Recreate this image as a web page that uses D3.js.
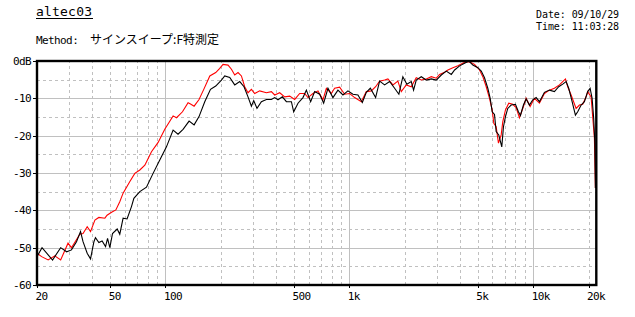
<!DOCTYPE html>
<html>
<head>
<meta charset="utf-8">
<script src="https://cdn.jsdelivr.net/npm/d3@7"></script>
<style>
  body { margin: 0; background: #fff; }
  .grid line { stroke: #c0c0c0; stroke-width: 1; shape-rendering: crispEdges; }
  .grid.minor line { stroke-dasharray: 3,3; }
  .grid path { display: none; }
  .axis path { display: none; }
  .axis line { stroke: #000; stroke-width: 1; shape-rendering: crispEdges; }
  .axis text, .info { font-family: "DejaVu Sans Mono", "Liberation Mono", monospace; font-size: 11px; letter-spacing: -0.6px; fill: #000; }
  .line { fill: none; stroke-width: 1.1; stroke-linejoin: miter; }
</style>
</head>
<body>
<div id="chart"></div>
<script>
// measurement curves (Hz / dB)
const redFreq = [20, 21.2, 23.0, 25.0, 26.9, 29.5, 30.8, 34.2, 35.6, 37.5, 39.1, 41.3, 43.4, 46.8, 48.1, 50.9, 53.7, 56.4, 58.8, 64.0, 68.1, 72.5, 77.2, 83.9, 91.2, 99.1, 110, 114.8, 123.7, 132.7, 136.8, 143.1, 152.2, 161.5, 174.2, 187.6, 197.3, 205.6, 218.9, 228.4, 238, 248.1, 258.8, 269.7, 281.1, 293.3, 305.7, 325.4, 353.9, 376.7, 392.6, 418, 445, 473.8, 504.4, 537, 571.5, 595.6, 634.1, 675.1, 718.6, 749.9, 798.3, 831.9, 885.6, 943, 1004, 1069, 1162, 1237, 1317, 1390, 1461, 1556, 1621, 1726, 1837, 1917, 2040, 2172, 2312, 2462, 2622, 2791, 2972, 3097, 3297, 3437, 3659, 3896, 4235, 4508, 4799, 5110, 5322, 5554, 5787, 5986, 6107, 6290, 6474, 6698, 6833, 7068, 7365, 7743, 8079, 8421, 8853, 9158, 9628, 10161, 10818, 11515, 12261, 13050, 13894, 14481, 14979, 15416, 16084, 17125, 17846, 18600, 19410, 19803, 20659, 21077, 21534, 21800];
const redDb = [-51.5, -52.4, -53.3, -52.2, -53.3, -48.8, -50.0, -46.4, -46.2, -44.4, -45.7, -42.6, -41.9, -42.1, -41.3, -40.5, -39.9, -37.7, -35.4, -32.3, -30.1, -29.2, -27.9, -24.3, -21.8, -18.3, -14.7, -15.2, -13.6, -11.2, -11.5, -12.1, -10.3, -7.6, -4.0, -3.1, -2.0, -0.9, -1.1, -2.2, -3.75, -3.1, -4.0, -6.9, -8.5, -7.6, -8.7, -8.0, -8.5, -8.2, -9.1, -8.5, -9.6, -9.4, -10.3, -8.7, -8.7, -9.8, -8.7, -8.0, -10.4, -7.3, -8.7, -7.3, -7.0, -8.9, -8.7, -9.8, -10.9, -8.2, -8.0, -6.9, -5.4, -5.1, -4.8, -6.4, -5.4, -8.2, -6.4, -6.9, -4.5, -5.1, -4.8, -4.2, -4.6, -3.6, -3.0, -2.4, -1.8, -1.3, -0.35, -0.2, -0.9, -2.4, -4.2, -6.9, -10.0, -13.1, -16.7, -17.6, -22.0, -19.8, -16.3, -13.1, -11.3, -11.6, -12.5, -15.2, -12.2, -10.0, -12.2, -10.0, -11.3, -8.7, -7.8, -7.3, -6.4, -5.5, -4.8, -6.9, -9.1, -12.7, -11.8, -11.6, -9.6, -8.2, -9.6, -14.9, -20.7, -34];

const blackFreq = [20, 21.3, 24.3, 26.9, 29.0, 30.8, 32.8, 34.5, 35.6, 37.5, 39.1, 40.8, 41.6, 43.4, 45.2, 47.2, 48.4, 49.8, 51.5, 54.6, 56.4, 58.8, 61.8, 65.3, 67.3, 72.5, 78.8, 85.6, 93.1, 101.2, 110, 117, 124.6, 134.4, 143.1, 152.2, 163.5, 175.7, 187.6, 201.5, 210, 223.6, 238, 253.4, 267.4, 281.1, 293.3, 301.9, 314.6, 332.4, 353.9, 376.7, 392.6, 409.2, 432.4, 454.6, 484, 498.2, 525.7, 559.6, 583.8, 616.1, 647.7, 689.6, 725, 765.1, 814.5, 867, 923, 982.7, 1046, 1114, 1177, 1237, 1301, 1390, 1461, 1556, 1656, 1763, 1860, 1955, 2056, 2172, 2236, 2312, 2462, 2622, 2791, 2972, 3164, 3368, 3587, 3738, 3980, 4235, 4469, 4699, 5001, 5219, 5436, 5666, 5838, 5986, 6161, 6290, 6499, 6749, 6893, 7068, 7274, 7589, 8009, 8315, 8527, 8853, 9158, 9544, 9946, 10379, 10818, 11515, 12261, 13050, 13772, 14481, 15110, 15609, 16289, 16975, 17471, 18231, 18999, 19803, 20406, 20922, 21346, 21640, 21800];
const blackDb = [-52.4, -50.0, -53.3, -50.0, -51.1, -50.6, -48.4, -45.7, -48.4, -51.5, -53.0, -48.4, -47.3, -48.6, -48.2, -49.7, -47.5, -50.0, -46.2, -45.0, -46.4, -42.1, -42.3, -39.0, -36.8, -35.0, -33.8, -30.1, -26.5, -23.0, -18.5, -19.6, -18.3, -16.1, -17.1, -14.9, -10.9, -7.6, -6.7, -5.1, -4.0, -4.4, -6.4, -5.5, -6.9, -9.6, -12.1, -10.6, -12.7, -10.9, -10.3, -10.3, -9.8, -10.4, -9.6, -10.9, -10.9, -13.6, -11.3, -9.8, -7.8, -10.9, -8.2, -8.9, -11.3, -7.3, -9.8, -7.8, -9.1, -8.0, -8.9, -9.1, -11.1, -8.4, -7.3, -9.8, -5.4, -6.4, -5.5, -7.3, -8.9, -4.2, -6.2, -5.5, -7.8, -5.1, -4.2, -5.1, -4.8, -5.1, -3.75, -2.7, -3.6, -2.4, -1.3, -0.6, 0, -1.1, -1.8, -2.7, -4.5, -7.3, -10.0, -13.6, -14.3, -18.9, -19.8, -23.0, -17.6, -14.9, -12.7, -11.8, -11.6, -13.6, -14.6, -11.8, -10.2, -11.8, -10.4, -9.8, -10.9, -8.4, -7.8, -8.2, -6.9, -6.2, -5.5, -7.3, -10.9, -14.5, -13.6, -11.8, -10.9, -8.2, -7.3, -10.0, -15.4, -21.6, -34];

const xLabelValues = [20, 50, 100, 500, 1000, 5000, 10000, 20000];
const xLabelTexts = ['20', '50', '100', '500', '1k', '5k', '10k', '20k'];
const xMajor = [100, 1000, 10000];
const xMinor = [30, 40, 50, 60, 70, 80, 90, 200, 300, 400, 500, 600, 700, 800, 900,
  2000, 3000, 4000, 5000, 6000, 7000, 8000, 9000, 20000];
const yLabelValues = [0, -10, -20, -30, -40, -50, -60];
const yMajor = [-10, -20, -30, -40, -50];
const yMinor = [-5, -15, -25, -35, -45, -55];

const titleText = 'altec03';
const methodLabel = 'Method:';
const methodText = 'サインスイープ:F特測定';
const dateText = 'Date: 09/10/29';
const timeText = 'Time: 11:03:28';

var margin = {top: 61, right: 38.7, bottom: 32, left: 37};
var fullWidth = 635, fullHeight = 317;
var width = fullWidth - margin.left - margin.right;
var height = fullHeight - margin.top - margin.bottom;

var xScale = d3.scaleLog().domain([20, 22050]).range([0, width]);
var yScale = d3.scaleLinear().domain([0, -60]).range([0, height]);

var root = d3.select('#chart').append('svg')
  .attr('width', fullWidth)
  .attr('height', fullHeight);

root.append('rect').attr('width', fullWidth).attr('height', fullHeight).attr('fill', '#fff');

// header texts
root.append('text').attr('class', 'info')
  .attr('x', 36).attr('y', 16)
  .style('font-size', '13px').style('letter-spacing', '0.2px')
  .text(titleText);
root.append('line')
  .attr('x1', 36).attr('x2', 93).attr('y1', 18.5).attr('y2', 18.5)
  .attr('stroke', '#000').attr('stroke-width', 1);

root.append('text').attr('class', 'info')
  .attr('x', 36).attr('y', 44)
  .text(methodLabel);
root.append('text')
  .attr('x', 90).attr('y', 44)
  .style('font-family', '"Noto Sans CJK JP", sans-serif')
  .style('font-size', '12px')
  .text(methodText);

root.append('text').attr('class', 'info')
  .attr('x', 619).attr('y', 18).attr('text-anchor', 'end')
  .style('font-size', '10px').style('letter-spacing', '-0.1px')
  .text(dateText);
root.append('text').attr('class', 'info')
  .attr('x', 619).attr('y', 29.5).attr('text-anchor', 'end')
  .style('font-size', '10px').style('letter-spacing', '-0.1px')
  .text(timeText);

var svg = root.append('g')
  .attr('transform', `translate(${margin.left},${margin.top})`);

// grid
svg.append('g').attr('class', 'grid minor')
  .attr('transform', `translate(0,${height})`)
  .call(d3.axisBottom(xScale).tickValues(xMinor).tickSize(-height).tickFormat(''));
svg.append('g').attr('class', 'grid major')
  .attr('transform', `translate(0,${height})`)
  .call(d3.axisBottom(xScale).tickValues(xMajor).tickSize(-height).tickFormat(''));
svg.append('g').attr('class', 'grid minor')
  .call(d3.axisLeft(yScale).tickValues(yMinor).tickSize(-width).tickFormat(''));
svg.append('g').attr('class', 'grid major')
  .call(d3.axisLeft(yScale).tickValues(yMajor).tickSize(-width).tickFormat(''));

svg.append('defs').append('clipPath')
  .attr('id', 'clip')
  .append('rect')
  .attr('width', width).attr('height', height);

var line = d3.line()
  .x(d => xScale(d[0]))
  .y(d => yScale(d[1]));

var dataArea = svg.append('g').attr('clip-path', 'url(#clip)');
dataArea.append('path')
  .datum(redFreq.map((f, i) => [f, redDb[i]]))
  .attr('class', 'line')
  .attr('stroke', '#ff0000')
  .attr('d', line);
dataArea.append('path')
  .datum(blackFreq.map((f, i) => [f, blackDb[i]]))
  .attr('class', 'line')
  .attr('stroke', '#000')
  .attr('d', line);

// axes
var xAxis = svg.append('g').attr('class', 'axis x')
  .attr('transform', `translate(0,${height})`)
  .call(d3.axisBottom(xScale).tickValues(xLabelValues).tickSize(3).tickPadding(3)
    .tickFormat((d, i) => xLabelTexts[i]));
xAxis.selectAll('text').attr('text-anchor', 'start').attr('dx', -2).attr('dy', '0.85em');

svg.append('g').attr('class', 'axis y')
  .call(d3.axisLeft(yScale).tickValues(yLabelValues).tickSize(4).tickPadding(2)
    .tickFormat(d => d === 0 ? '0dB' : String(d)));

// frame
svg.append('rect')
  .attr('width', width).attr('height', height)
  .attr('fill', 'none').attr('stroke', '#000').attr('stroke-width', 2.4);
</script>
</body>
</html>
